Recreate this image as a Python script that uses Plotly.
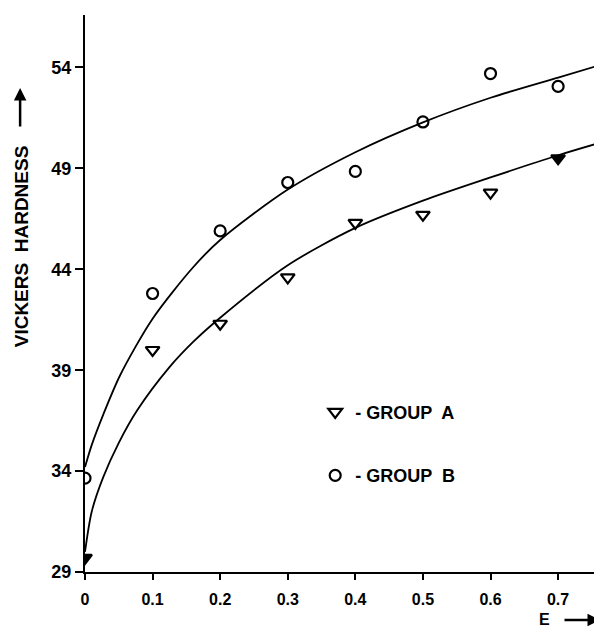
import plotly.graph_objects as go

# Measured data (strain E vs Vickers hardness)
E_points = [0, 0.1, 0.2, 0.3, 0.4, 0.5, 0.6, 0.7]
group_a = [29.7, 40.0, 41.3, 43.6, 46.3, 46.7, 47.8, 49.5]
group_b = [33.65, 42.8, 45.9, 48.3, 48.85, 51.3, 53.7, 53.06]
group_a_filled = [0, 7]  # indices drawn as solid triangles

# Fitted curves
E_fit_a = [0, 0.01, 0.027, 0.05, 0.077, 0.125, 0.16, 0.2, 0.3, 0.4, 0.5, 0.6, 0.7, 0.76]
fit_a = [30.0, 32.0, 33.7, 35.4, 37.0, 39.15, 40.4, 41.6, 44.2, 46.05, 47.4, 48.55, 49.65, 50.25]
E_fit_b = [0, 0.01, 0.027, 0.052, 0.1, 0.16, 0.2, 0.3, 0.4, 0.5, 0.6, 0.7, 0.76]
fit_b = [34.2, 35.3, 36.8, 38.75, 41.55, 44.1, 45.45, 47.95, 49.8, 51.28, 52.5, 53.5, 54.1]

x_ticks = [0, 0.1, 0.2, 0.3, 0.4, 0.5, 0.6, 0.7]
x_tick_labels = ["0", "0.1", "0.2", "0.3", "0.4", "0.5", "0.6", "0.7"]
y_ticks = [29, 34, 39, 44, 49, 54]

FONT = "Liberation Sans"
BOLD = dict(family=FONT, weight="bold", color="black")

fig = go.Figure()
fig.add_trace(go.Scatter(x=E_fit_b, y=fit_b, mode="lines",
                         line=dict(color="black", width=1.8, shape="spline", smoothing=0.8),
                         showlegend=False, hoverinfo="skip"))
fig.add_trace(go.Scatter(x=E_fit_a, y=fit_a, mode="lines",
                         line=dict(color="black", width=1.8, shape="spline", smoothing=0.8),
                         showlegend=False, hoverinfo="skip"))
fig.add_trace(go.Scatter(x=E_points, y=group_a, mode="markers", name="- GROUP  A", legendgroup="a",
                         marker=dict(symbol="triangle-down-open", size=12, color="black",
                                     line=dict(width=2.2, color="black"))))
fig.add_trace(go.Scatter(x=[E_points[i] for i in group_a_filled], y=[group_a[i] for i in group_a_filled],
                         mode="markers", showlegend=False, legendgroup="a",
                         marker=dict(symbol="triangle-down", size=12, color="black")))
fig.add_trace(go.Scatter(x=E_points, y=group_b, mode="markers", name="- GROUP  B", legendgroup="b",
                         marker=dict(symbol="circle-open", size=11, color="black",
                                     line=dict(width=2.2, color="black"))))

fig.update_layout(
    width=594, height=622,
    margin=dict(l=77, r=2, t=7, b=58, autoexpand=False),
    paper_bgcolor="white", plot_bgcolor="white",
    font=dict(family=FONT, color="black", size=14),
    legend=dict(x=0.447, y=0.32, xanchor="left", yanchor="top", tracegroupgap=37,
                font=dict(size=18, **BOLD), bgcolor="rgba(0,0,0,0)"),
    xaxis=dict(range=[0, 0.762], tickvals=x_ticks, ticktext=x_tick_labels, showgrid=False, zeroline=False,
               showline=True, linecolor="black", linewidth=2, ticks="outside", ticklen=6, tickwidth=1.5,
               tickcolor="black", ticklabelstandoff=6, automargin=False,
               tickfont=dict(size=16, **BOLD)),
    yaxis=dict(range=[29, 56.6], tickvals=y_ticks, showgrid=False, zeroline=False,
               showline=True, linecolor="black", linewidth=2, ticks="outside", ticklen=8, tickwidth=1.5,
               tickcolor="black", automargin=False,
               tickfont=dict(size=18, **BOLD)),
    annotations=[
        dict(text="VICKERS  HARDNESS", textangle=-90, xref="paper", yref="paper",
             x=-0.124, y=0.585, xanchor="center", yanchor="middle", showarrow=False,
             font=dict(size=19, **BOLD)),
        dict(text="", xref="paper", yref="paper", x=-0.126, y=0.869, ax=0, ay=40,
             showarrow=True, arrowhead=2, arrowsize=1, arrowwidth=2.5, arrowcolor="black"),
        dict(text="E", xref="paper", yref="paper", x=0.893, y=-0.086, xanchor="center", yanchor="middle",
             showarrow=False, font=dict(size=16, **BOLD)),
        dict(text="", xref="paper", yref="paper", x=1.0, y=-0.086, ax=-37, ay=0,
             showarrow=True, arrowhead=2, arrowsize=1, arrowwidth=2.5, arrowcolor="black"),
    ],
)

fig.write_html("out.html")
